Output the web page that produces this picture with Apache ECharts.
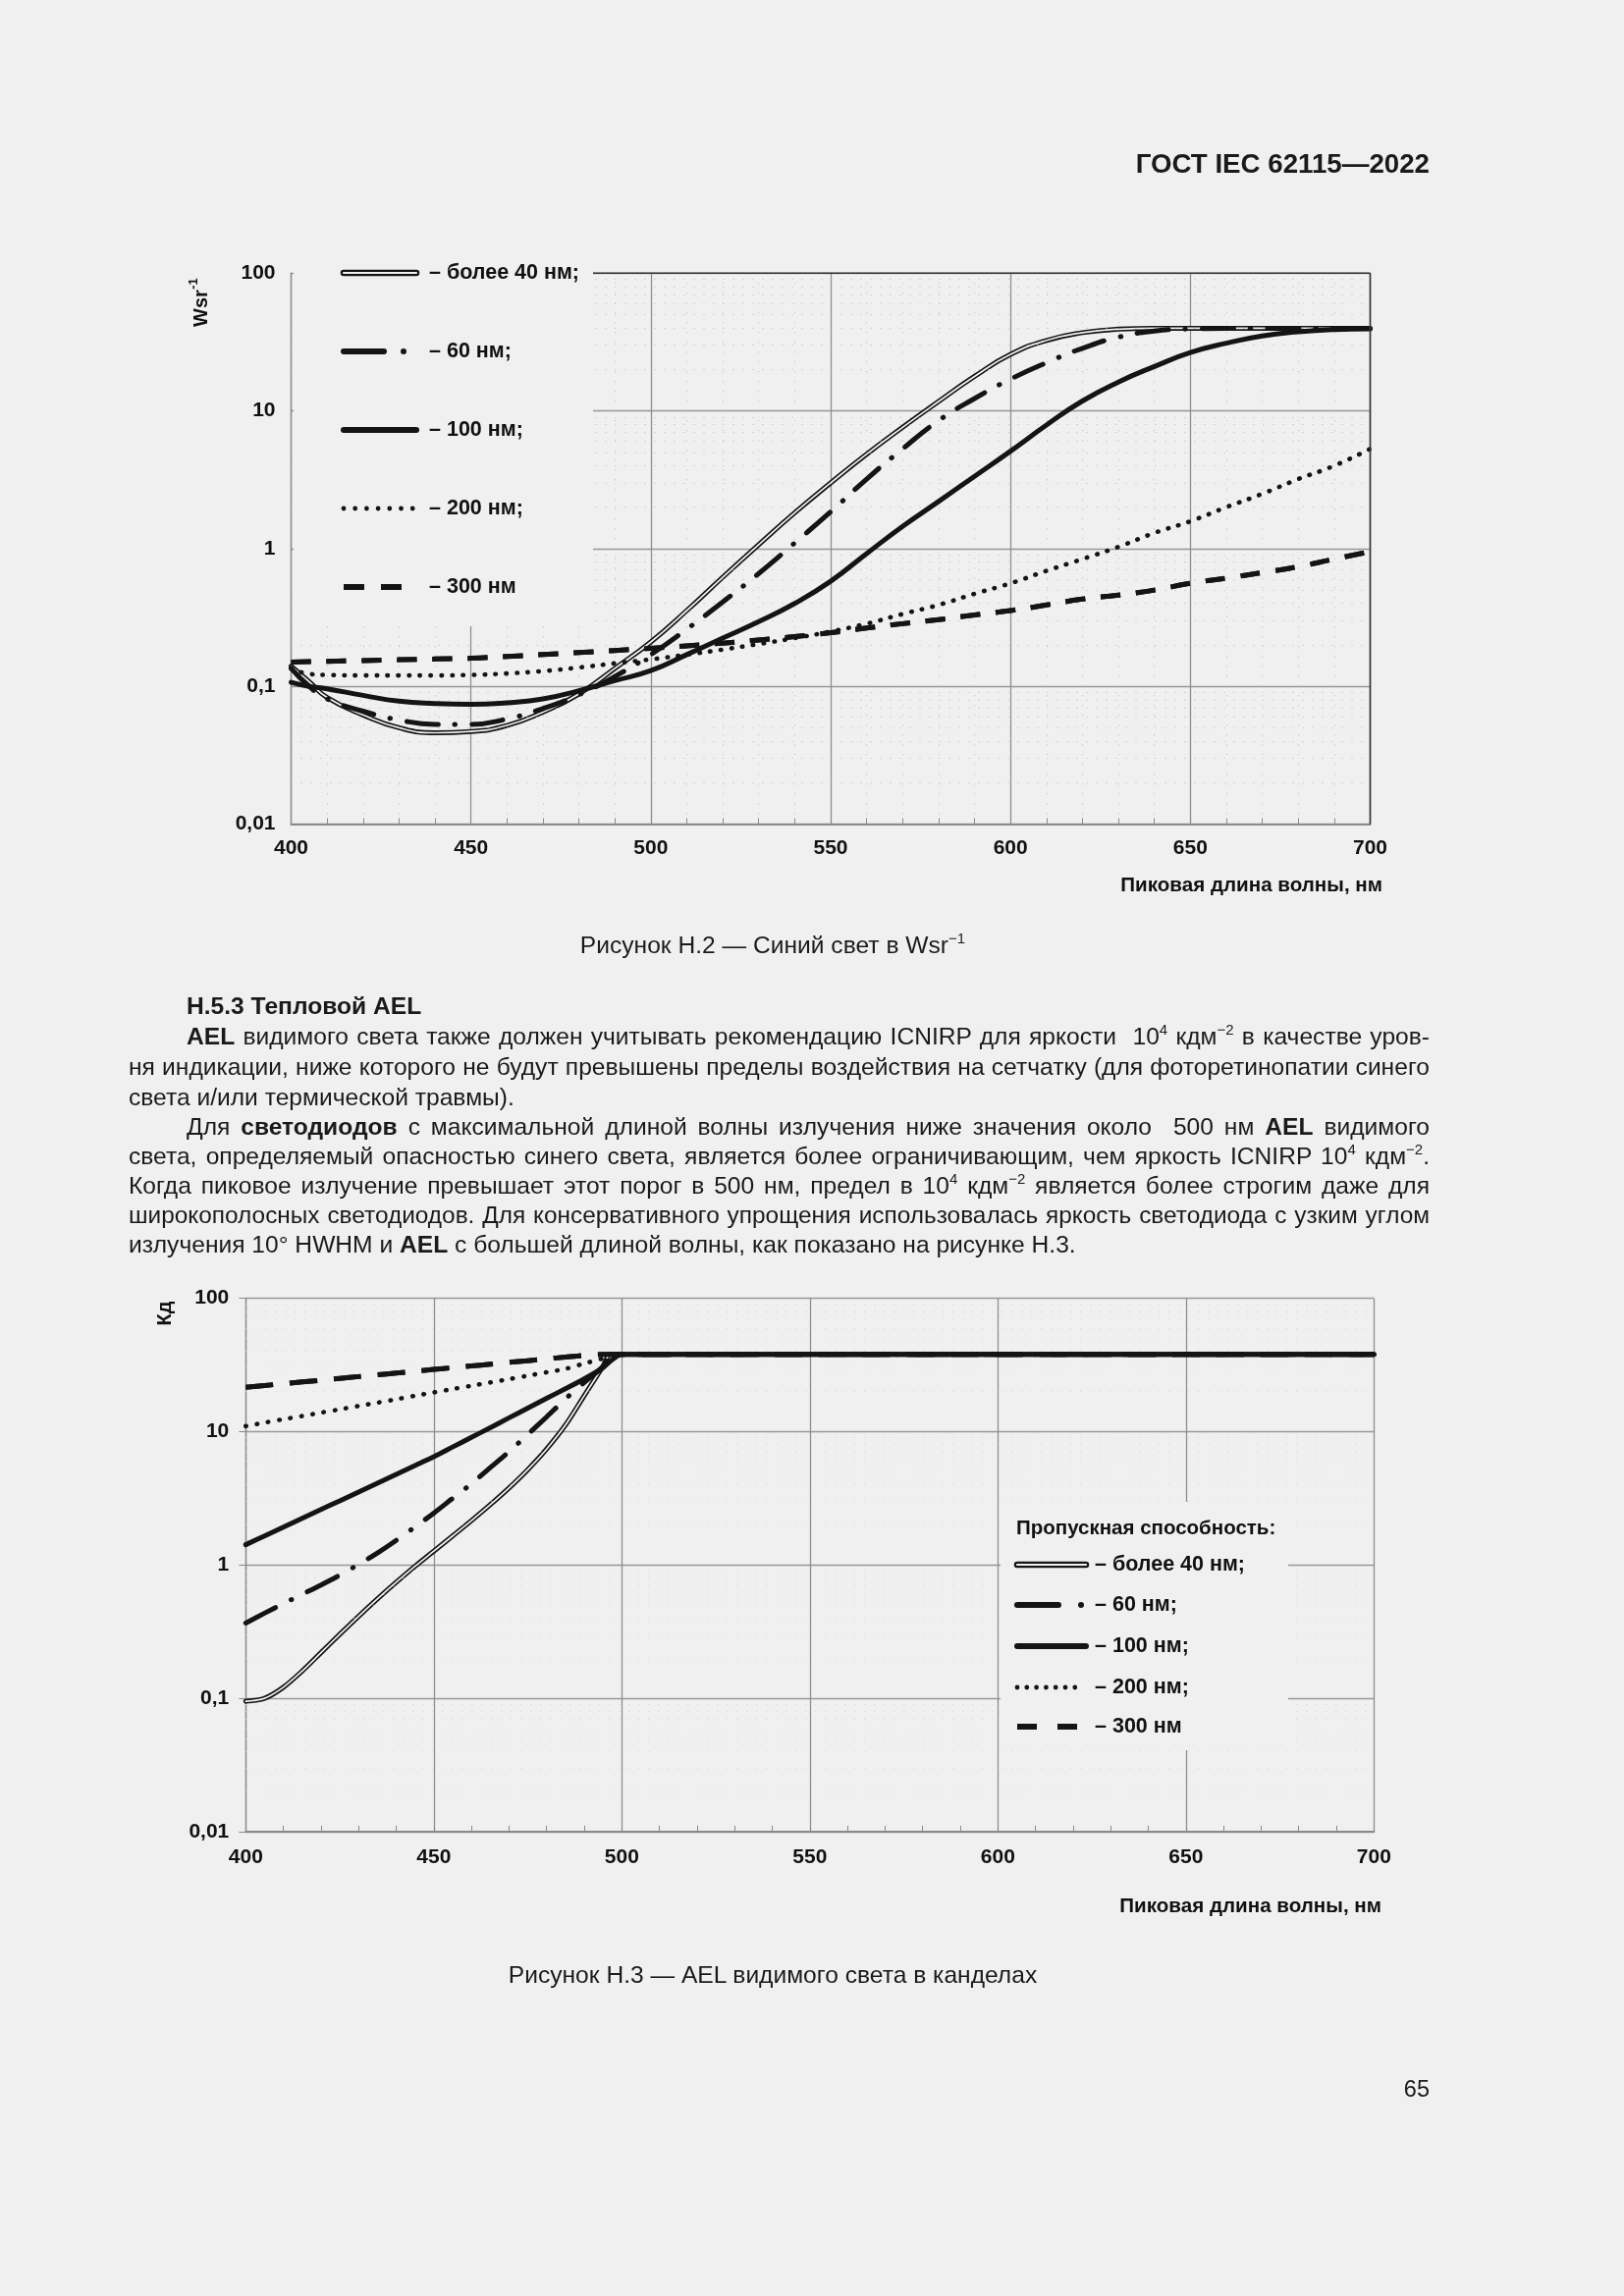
<!DOCTYPE html>
<html><head><meta charset="utf-8">
<script src="https://cdn.jsdelivr.net/npm/echarts@6/dist/echarts.min.js"></script>
<style>
html,body{margin:0;padding:0;background:#f0f0f0;}
#page{position:relative;width:1654px;height:2339px;overflow:hidden;font-family:"Liberation Sans",Arial,sans-serif;color:#1a1a1a;}
#chart{position:absolute;left:0;top:0;width:1654px;height:2339px;}
.t{position:absolute;font-size:24.6px;line-height:30px;white-space:nowrap;}
.j{position:absolute;font-size:24.6px;line-height:30px;text-align:justify;text-align-last:justify;white-space:normal;}
sup{font-size:15px;line-height:0;vertical-align:0;position:relative;top:-10px;}
</style></head>
<body><div id="page"><div id="chart"></div>
<div class="t" style="right:198px;top:152px;font-size:27.7px;font-weight:bold;">ГОСТ IEC 62115—2022</div>
<div class="t" style="left:0;width:1574px;text-align:center;top:948px;">Рисунок Н.2 — Синий свет в Wsr<sup>−1</sup></div>
<div class="t" style="left:190px;top:1010px;font-weight:bold;">Н.5.3 Тепловой AEL</div>
<div class="j" style="left:190px;width:1266px;top:1041px;"><b>AEL</b> видимого света также должен учитывать рекомендацию ICNIRP для яркости&nbsp; 10<sup>4</sup> кдм<sup>−2</sup> в качестве уров-</div>
<div class="j" style="left:131px;width:1325px;top:1072px;">ня индикации, ниже которого не будут превышены пределы воздействия на сетчатку (для фоторетинопатии синего</div>
<div class="t" style="left:131px;top:1103px;">света и/или термической травмы).</div>
<div class="j" style="left:190px;width:1266px;top:1133px;">Для <b>светодиодов</b> с максимальной длиной волны излучения ниже значения около&nbsp; 500 нм <b>AEL</b> видимого</div>
<div class="j" style="left:131px;width:1325px;top:1163px;">света, определяемый опасностью синего света, является более ограничивающим, чем яркость ICNIRP 10<sup>4</sup> кдм<sup>−2</sup>.</div>
<div class="j" style="left:131px;width:1325px;top:1193px;">Когда пиковое излучение превышает этот порог в 500 нм, предел в 10<sup>4</sup> кдм<sup>−2</sup> является более строгим даже для</div>
<div class="j" style="left:131px;width:1325px;top:1223px;">широкополосных светодиодов. Для консервативного упрощения использовалась яркость светодиода с узким углом</div>
<div class="t" style="left:131px;top:1253px;">излучения 10° HWHM и <b>AEL</b> с большей длиной волны, как показано на рисунке Н.3.</div>
<div class="t" style="left:0;width:1574px;text-align:center;top:1997px;">Рисунок Н.3 — AEL видимого света в канделах</div>
<div class="t" style="right:198px;top:2113px;font-size:23.5px;">65</div>
</div>
<script>
// keep every justified line on one line: shrink a little if it would wrap
document.querySelectorAll('.j').forEach(el=>{
  let fs = 24.6;
  while (el.scrollHeight > 34 && fs > 16) { fs -= 0.2; el.style.fontSize = fs + 'px'; }
});

// ---------- data: Figure H.2 (Wsr^-1) ----------
const wl1 = [400,405,410,420,430,440,450,460,470,480,490,500,510,520,530,540,550,560,570,580,590,600,610,620,630,640,650,660,670,680,690,700];
const h2_40  = [0.14,0.108,0.083,0.062,0.05,0.046,0.047,0.052,0.065,0.088,0.135,0.21,0.355,0.62,1.07,1.82,3.0,4.85,7.6,11.7,17.8,25.7,32.5,37,39.2,39.8,39.8,39.8,39.8,39.8,39.8,39.8];
const h2_60  = [0.135,0.1,0.081,0.066,0.057,0.053,0.053,0.058,0.069,0.087,0.118,0.17,0.26,0.41,0.66,1.1,1.85,3.2,5.3,8.5,12.3,17,22.4,28.5,34.3,38,39.4,39.8,39.8,39.8,39.8,39.8];
const h2_100 = [0.107,0.1,0.096,0.086,0.078,0.075,0.074,0.076,0.081,0.093,0.11,0.13,0.17,0.224,0.295,0.4,0.58,0.92,1.45,2.2,3.35,5.1,7.9,11.8,16.2,21,26.5,31,35,37.5,39,39.5];
const h2_200 = [0.135,0.123,0.121,0.12,0.12,0.12,0.121,0.124,0.129,0.137,0.147,0.157,0.17,0.185,0.203,0.224,0.25,0.285,0.335,0.39,0.47,0.56,0.69,0.84,1.03,1.3,1.58,2.0,2.5,3.2,4.0,5.3];
const h2_300 = [0.15,0.151,0.152,0.154,0.156,0.158,0.16,0.165,0.17,0.176,0.182,0.189,0.197,0.206,0.217,0.23,0.245,0.265,0.285,0.305,0.33,0.355,0.39,0.43,0.46,0.5,0.56,0.61,0.67,0.74,0.84,0.95];
// ---------- data: Figure H.3 (cd) ----------
const wl2 = [400,405,410,415,420,425,430,435,440,445,450,455,460,465,470,475,480,485,490,495,497,500,550,600,650,700];
const h3_40  = [0.095,0.1,0.121,0.16,0.22,0.302,0.412,0.556,0.741,0.977,1.27,1.65,2.15,2.83,3.78,5.19,7.41,11.2,18.6,30.9,38,38,38,38,38,38];
const h3_60  = [0.367,0.435,0.513,0.603,0.708,0.839,1.01,1.23,1.53,1.93,2.45,3.16,4.07,5.37,7.08,9.55,12.9,17.6,23.4,30.9,38,38,38,38,38,38];
const h3_100 = [1.42,1.65,1.92,2.24,2.61,3.03,3.53,4.11,4.79,5.57,6.49,7.67,9.08,10.7,12.7,15.0,17.8,21.0,24.9,30.2,33.9,38,38,38,38,38];
const h3_200 = [11,11.7,12.4,13.1,13.9,14.7,15.6,16.5,17.5,18.6,19.7,20.9,22.1,23.4,24.8,26.3,27.9,29.6,32.5,35.5,38,38,38,38,38,38];
const h3_300 = [21.5,22.2,22.9,23.6,24.3,25.1,25.9,26.7,27.5,28.4,29.3,30.2,31.1,32.1,33.1,34.1,35.2,36.3,37.4,38,38,38,38,38,38,38];
// ---------- ticks / labels ----------
const yTickLabels = ['0,01','0,1','1','10','100'];
const minorY = [0.02,0.03,0.04,0.05,0.06,0.07,0.08,0.09,0.2,0.3,0.4,0.5,0.6,0.7,0.8,0.9,2,3,4,5,6,7,8,9,20,30,40,50,60,70,80,90];
const legendLabels = ['– более 40 нм;','– 60 нм;','– 100 нм;','– 200 нм;','– 300 нм'];
const legendTitle2 = 'Пропускная способность:';
const xName = 'Пиковая длина волны, нм';

const FONT = '"Liberation Sans", Arial, sans-serif';
const INK = '#141414';
const BG = '#f0f0f0';
const G1 = {left:296.5, top:278.3, width:1099, height:561.2};
const G2 = {left:250.3, top:1322.7, width:1149, height:543.2};

const chart = echarts.init(document.getElementById('chart'), null, {renderer:'canvas'});

const axisFont = {fontFamily: FONT, fontWeight:'bold', fontSize:21, color:'#111'};
function xAx(gi, margin){
  return {gridIndex:gi, type:'value', min:400, max:700, interval:50,
    axisLine:{show:true, onZero:false, lineStyle:{color:'#8a8a8a', width:2}},
    axisTick:{show:true, inside:true, length:6, lineStyle:{color:'#8a8a8a'}},
    minorTick:{show:true, splitNumber:5, length:6, lineStyle:{color:'#8a8a8a'}},
    axisLabel:Object.assign({margin:margin}, axisFont),
    splitLine:{show:true, lineStyle:{color:'#8e8e8e', width:1.3}},
    minorSplitLine:{show: gi===0, lineStyle:{color:'#b9b9b9', width:1, type:[1,9]}}
  };
}
function yAx(gi, margin, ticks){
  return {gridIndex:gi, type:'log', logBase:10, min:0.01, max:100,
    axisLine:{show:true, lineStyle:{color:'#8a8a8a', width:1.3}},
    axisTick:{show:ticks, length:7, lineStyle:{color:'#8a8a8a'}},
    axisLabel:Object.assign({margin:margin, formatter:v=>yTickLabels[Math.round(Math.log10(v))+2]}, axisFont),
    splitLine:{show:true, lineStyle:{color:'#979797', width:1.3}}
  };
}
function ln(gi, xs, ys, ls, z, extra){
  return Object.assign({type:'line', xAxisIndex:gi, yAxisIndex:gi,
    data: xs.map((x,i)=>[x, ys[i]]), symbol:'none', showSymbol:false,
    smooth: gi===0 ? 0.5 : 0.3, lineStyle: Object.assign({color:INK, cap:'round', join:'round'}, ls),
    z:z, silent:true, animation:false}, extra||{});
}
function minorLines(col){
  return {markLine:{silent:true, symbol:['none','none'], label:{show:false}, animation:false,
    lineStyle:{color:col, width:1, type:[1,9]}, data:minorY.map(v=>({yAxis:v}))}};
}
const sty = {
  dbl:  {width:5},
  dblIn:{width:1.7, color:BG},
  dd1:  {width:5, type:[32,17,0.5,17]},
  dd2:  {width:5, type:[34,18,0.5,18]},
  solid:{width:5},
  dot1: {width:4.6, type:[0.5,10.5]},
  dot2: {width:4.6, type:[0.5,11]},
  dsh1: {width:5, type:[20,16], cap:'butt'},
  dsh2: {width:5, type:[28,17], cap:'butt'}
};

const series = [
  ln(0, wl1, h2_300, sty.dsh1, 2, minorLines('#b9b9b9')),
  ln(0, wl1, h2_40, sty.dbl, 3),
  ln(0, wl1, h2_40, sty.dblIn, 4),
  ln(0, wl1, h2_200, sty.dot1, 5),
  ln(0, wl1, h2_300, sty.dsh1, 5),
  ln(0, wl1, h2_60, sty.dd1, 6),
  ln(0, wl1, h2_100, sty.solid, 7),

  ln(1, wl2, h3_300, sty.dsh2, 2, minorLines('#d3d3d3')),
  ln(1, wl2, h3_40, sty.dbl, 3),
  ln(1, wl2, h3_40, sty.dblIn, 4),
  ln(1, wl2, h3_200, sty.dot2, 5),
  ln(1, wl2, h3_300, sty.dsh2, 5),
  ln(1, wl2, h3_60, sty.dd2, 6),
  ln(1, wl2, h3_100, sty.solid, 7)
];

// ---------- graphic helpers ----------
function seg(x1,y,x2,w,color,cap){ return {type:'line', silent:true, z:61, shape:{x1:x1,y1:y,x2:x2,y2:y}, style:{stroke:color||INK, lineWidth:w, lineCap:cap||'round'}}; }
function vseg(x,y1,y2,w,color){ return {type:'line', silent:true, z:62, shape:{x1:x,y1:y1,x2:x,y2:y2}, style:{stroke:color, lineWidth:w}}; }
function dot(x,y,r){ return {type:'circle', silent:true, z:61, shape:{cx:x,cy:y,r:r}, style:{fill:INK}}; }
function txt(x,y,s,size,align,rot){
  const o = {type:'text', silent:true, z:62, x:x, y:y,
    style:{text:s, font:'bold '+size+'px '+FONT, fill:'#111', align:align||'left', textAlign:align||'left', verticalAlign:'middle', textVerticalAlign:'middle'}};
  if (rot) o.rotation = rot;
  return o;
}
function legend(x1, x2, xt, ys, ddEnd, ddDot, dotStep, dshA, dshB){
  const g = [];
  g.push(seg(x1, ys[0], x2, 6.5), seg(x1, ys[0], x2, 2.2, BG));
  g.push(seg(x1, ys[1], ddEnd, 6), dot(ddDot, ys[1], 3));
  g.push(seg(x1, ys[2], x2, 6));
  for (let i=0;i<7;i++) g.push(dot(x1 + i*dotStep, ys[3], 2.4));
  g.push(seg(x1, ys[4], dshA, 6, INK, 'butt'), seg(dshB, ys[4], dshB + (dshA - x1), 6, INK, 'butt'));
  legendLabels.forEach((s,i)=>g.push(txt(xt, ys[i], s, 21.5)));
  return g;
}
const L1Y = [278, 358, 438, 518, 598];
const L2Y = [1594, 1635, 1677, 1719, 1759];
const graphic = [
  // legend background boxes hide the grid behind them
  {type:'rect', silent:true, z:50, shape:{x:299, y:268, width:305, height:370}, style:{fill:BG}},
  {type:'rect', silent:true, z:50, shape:{x:1019, y:1530, width:293, height:253}, style:{fill:BG}},
  // chart 1 frame (top / right)
  {type:'line', silent:true, z:55, shape:{x1:604, y1:G1.top, x2:G1.left+G1.width, y2:G1.top}, style:{stroke:'#333', lineWidth:1.6}},
  vseg(G1.left+G1.width, G1.top, G1.top+G1.height, 1.6, '#333'),
  ...legend(350, 424, 437, L1Y, 391, 411, 11.7, 371, 388),
  txt(1035, 1557, legendTitle2, 20.5),
  ...legend(1036, 1106, 1115, L2Y, 1078, 1101, 9.8, 1056, 1077),
  txt(1408, 902, xName, 20.6, 'right'),
  txt(1407, 1942, xName, 20.6, 'right'),
  txt(205, 314, 'Wsr', 20, 'center', Math.PI/2),
  txt(197, 289, '-1', 13, 'center', Math.PI/2),
  txt(168, 1338, 'Кд', 20, 'center', Math.PI/2)
];

chart.setOption({
  animation:false,
  backgroundColor:'transparent',
  grid:[
    Object.assign({show:false, containLabel:false}, G1),
    Object.assign({show:false, containLabel:false}, G2)
  ],
  xAxis:[xAx(0,14), xAx(1,16)],
  yAxis:[yAx(0,16,false), yAx(1,17,true)],
  series: series,
  graphic: graphic
});
</script>
</body></html>
